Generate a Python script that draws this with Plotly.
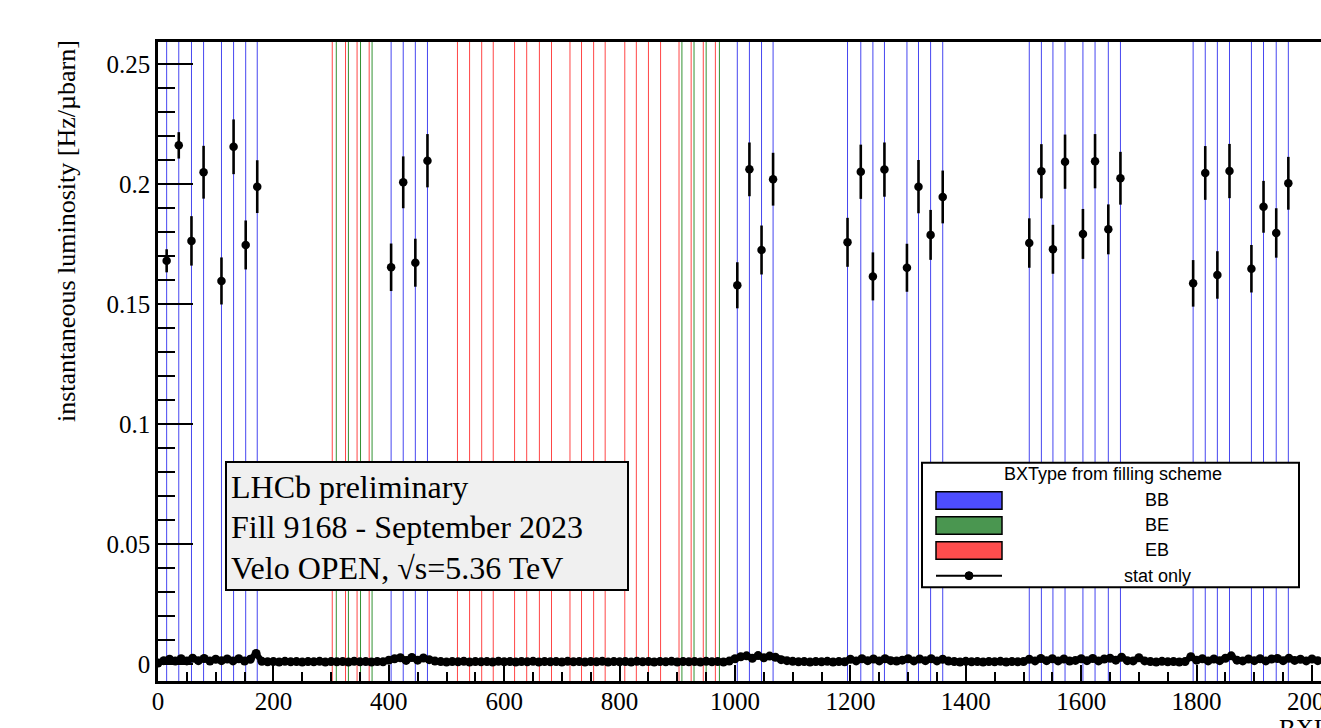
import plotly.graph_objects as go

# ---------------- data ----------------
# colliding (BB) bunch crossings with luminosity and stat error
bb_bx = [15, 36, 58, 79, 110, 131, 152, 172,
         404, 425, 446, 467,
         1004, 1025, 1046, 1066,
         1195, 1218, 1239, 1259, 1298, 1318, 1339, 1360,
         1510, 1531, 1551, 1572, 1603, 1624, 1647, 1668,
         1794, 1815, 1836, 1857, 1895, 1916, 1938, 1959]
bb_lumi = [0.1680, 0.2161, 0.1763, 0.2049, 0.1596, 0.2155, 0.1746, 0.1989,
           0.1653, 0.2007, 0.1672, 0.2097,
           0.1578, 0.2061, 0.1725, 0.2020,
           0.1757, 0.2051, 0.1615, 0.2060, 0.1651, 0.1989, 0.1788, 0.1946,
           0.1754, 0.2053, 0.1728, 0.2093, 0.1792, 0.2095, 0.1811, 0.2024,
           0.1586, 0.2046, 0.1621, 0.2054, 0.1647, 0.1905, 0.1796, 0.2003]
bb_err = [0.0048, 0.0055, 0.0103, 0.0110, 0.0098, 0.0114, 0.0102, 0.0110,
          0.0099, 0.0108, 0.0100, 0.0111,
          0.0096, 0.0112, 0.0102, 0.0110,
          0.0102, 0.0113, 0.0100, 0.0113, 0.0100, 0.0111, 0.0104, 0.0110,
          0.0103, 0.0113, 0.0102, 0.0113, 0.0104, 0.0113, 0.0104, 0.0110,
          0.0097, 0.0112, 0.0099, 0.0113, 0.0099, 0.0108, 0.0103, 0.0110]

# beam-empty and empty-beam crossings from the filling scheme
be_bx = [309, 330, 351, 371, 908, 929, 950, 973]
eb_bx = [302, 325, 345, 366, 519, 540, 561, 581, 618, 639, 661, 682,
         714, 734, 755, 775, 809, 829, 850, 871, 903, 924, 945, 966]

# near-zero luminosity in the remaining crossings (read every 10 BXID)
band_bx = list(range(0, 2020, 10))
band_val = [
    0.0004, 0.0014, 0.0020, 0.0012, 0.0022, 0.0013, 0.0024, 0.0014, 0.0023, 0.0012,
    0.0020, 0.0014, 0.0021, 0.0013, 0.0022, 0.0012, 0.0020, 0.0044, 0.0011, 0.0009,
    0.0010, 0.0008, 0.0011, 0.0009, 0.0010, 0.0008, 0.0010, 0.0009, 0.0011, 0.0008,
    0.0010, 0.0009, 0.0010, 0.0008, 0.0011, 0.0009, 0.0010, 0.0008, 0.0010, 0.0009,
    0.0016, 0.0022, 0.0026, 0.0015, 0.0027, 0.0016, 0.0025, 0.0018, 0.0012,
    0.0010, 0.0008, 0.0010, 0.0009, 0.0011, 0.0008, 0.0010, 0.0009, 0.0010, 0.0008,
    0.0011, 0.0009, 0.0010, 0.0008, 0.0010, 0.0009, 0.0011, 0.0008, 0.0010, 0.0009,
    0.0010, 0.0008, 0.0011, 0.0009, 0.0010, 0.0008, 0.0010, 0.0009, 0.0011, 0.0008,
    0.0010, 0.0009, 0.0010, 0.0008, 0.0011, 0.0009, 0.0010, 0.0008, 0.0010, 0.0009,
    0.0011, 0.0008, 0.0010, 0.0009, 0.0010, 0.0008, 0.0011, 0.0009, 0.0010, 0.0008,
    0.0012,
    0.0022, 0.0030, 0.0034, 0.0024, 0.0035, 0.0026, 0.0033, 0.0028, 0.0018, 0.0014,
    0.0011, 0.0009, 0.0010, 0.0008, 0.0010, 0.0009, 0.0011, 0.0008, 0.0010, 0.0009,
    0.0020, 0.0013, 0.0022, 0.0014, 0.0021, 0.0013, 0.0022, 0.0014, 0.0012, 0.0016,
    0.0022, 0.0013, 0.0021, 0.0014, 0.0022, 0.0013, 0.0020, 0.0012,
    0.0010, 0.0008, 0.0011, 0.0009, 0.0010, 0.0008, 0.0010, 0.0009, 0.0011, 0.0008,
    0.0010, 0.0009, 0.0010,
    0.0020, 0.0013, 0.0023, 0.0014, 0.0022, 0.0013, 0.0021, 0.0012, 0.0015, 0.0022,
    0.0014, 0.0023, 0.0013, 0.0021, 0.0024, 0.0016, 0.0028, 0.0014, 0.0013, 0.0026,
    0.0013,
    0.0010, 0.0008, 0.0011, 0.0009, 0.0010, 0.0008, 0.0010,
    0.0030, 0.0016, 0.0022, 0.0013, 0.0021, 0.0014, 0.0024, 0.0034, 0.0016, 0.0013,
    0.0021, 0.0014, 0.0022, 0.0013, 0.0021, 0.0023, 0.0014, 0.0024, 0.0015, 0.0020,
    0.0013, 0.0021, 0.0014,
]
n = min(len(band_bx), len(band_val))
band_bx, band_val = band_bx[:n], band_val[:n]

text_lines = ["LHCb preliminary", "Fill 9168 - September 2023", "Velo OPEN, √s=5.36 TeV"]
legend_title = "BXType from filling scheme"
legend_labels = ["BB", "BE", "EB", "stat only"]

# ---------------- styling ----------------
W, H = 1321, 728
# plot area in screen pixels
X0S, X1S, Y0S, Y1S = 158, 1321, 42, 681
L, R, T, B = X0S, W - X1S, Y0S, H - Y1S
SERIF = "Liberation Serif, Times New Roman, serif"
SANS = "Liberation Sans, Arial, sans-serif"
BLUE_LINE = "rgb(70,70,240)"
GREEN_LINE = "rgb(50,145,50)"
RED_LINE = "rgb(255,70,70)"


def px(xs):
    """screen x pixel -> paper coordinate"""
    return (xs - X0S) / (X1S - X0S)


def py(ys):
    """screen y pixel -> paper coordinate"""
    return (Y1S - ys) / (Y1S - Y0S)


fig = go.Figure()

shapes = []
for xs, col in ((eb_bx, RED_LINE), (be_bx, GREEN_LINE), (bb_bx, BLUE_LINE)):
    for xv in xs:
        shapes.append(dict(type="line", xref="x", yref="paper", x0=xv, x1=xv, y0=0, y1=1,
                           line=dict(color=col, width=1), layer="below"))

fig.add_trace(go.Scatter(x=band_bx, y=band_val, mode="lines+markers",
                         line=dict(color="black", width=6),
                         marker=dict(color="black", size=9), showlegend=False,
                         hoverinfo="skip"))
fig.add_trace(go.Scatter(x=bb_bx, y=bb_lumi, mode="markers",
                         error_y=dict(type="data", array=bb_err, color="black",
                                      thickness=2.6, width=0),
                         marker=dict(color="black", size=8.5), showlegend=False))

# info box
shapes.append(dict(type="rect", xref="paper", yref="paper", x0=px(226), x1=px(628),
                   y0=py(590), y1=py(462), fillcolor="rgb(240,240,240)",
                   line=dict(color="black", width=2), layer="above"))
annotations = []
for t, yc in zip(text_lines, [487, 527, 568]):
    annotations.append(dict(text=t, xref="paper", yref="paper", x=px(229), y=py(yc),
                            xanchor="left", yanchor="middle", showarrow=False,
                            font=dict(family=SERIF, size=32, color="black")))

# legend box
shapes.append(dict(type="rect", xref="paper", yref="paper", x0=px(922), x1=px(1299),
                   y0=py(587.3), y1=py(462.7), fillcolor="white",
                   line=dict(color="black", width=2), layer="above"))
annotations.append(dict(text=legend_title, xref="paper", yref="paper", x=px(1113), y=py(474),
                        xanchor="center", yanchor="middle", showarrow=False,
                        font=dict(family=SANS, size=18, color="black")))
box_cols = ["rgb(77,77,255)", "rgb(74,150,80)", "rgb(255,77,77)"]
box_y = [(491.7, 509.3), (516.7, 534.3), (541.7, 559.3)]
for col, (y0, y1) in zip(box_cols, box_y):
    shapes.append(dict(type="rect", xref="paper", yref="paper", x0=px(936), x1=px(1002),
                       y0=py(y1), y1=py(y0), fillcolor=col,
                       line=dict(color="black", width=1.5), layer="above"))
shapes.append(dict(type="line", xref="paper", yref="paper", x0=px(936), x1=px(1002),
                   y0=py(575.7), y1=py(575.7), line=dict(color="black", width=2), layer="above"))
shapes.append(dict(type="circle", xref="paper", yref="paper", x0=px(965), x1=px(973),
                   y0=py(579.7), y1=py(571.7), fillcolor="black",
                   line=dict(color="black", width=1), layer="above"))
for lab, yc in zip(legend_labels, [500, 525, 550, 575.5]):
    annotations.append(dict(text=lab, xref="paper", yref="paper", x=px(1157), y=py(yc),
                            xanchor="center", yanchor="middle", showarrow=False,
                            font=dict(family=SANS, size=18, color="black")))

# axis titles
annotations.append(dict(text="instantaneous luminosity [Hz/µbarn]", xref="paper", yref="paper",
                        x=px(66), y=py(231), textangle=-90, xanchor="center", yanchor="middle",
                        showarrow=False, font=dict(family=SERIF, size=26, color="black")))
annotations.append(dict(text="BXID", xref="paper", yref="paper", x=px(1277), y=py(713),
                        xanchor="left", yanchor="top", showarrow=False,
                        font=dict(family=SERIF, size=25, color="black")))

fig.update_layout(
    width=W, height=H, margin=dict(l=L, r=R, t=T, b=B, autoexpand=False),
    paper_bgcolor="white", plot_bgcolor="white",
    shapes=shapes, annotations=annotations, showlegend=False,
    xaxis=dict(range=[0, (X1S - X0S) / 0.577], showline=True, linecolor="black", linewidth=2.5,
               mirror=True, ticks="inside", ticklen=16, tickwidth=1.5, tickcolor="black",
               tick0=0, dtick=200, showgrid=False, zeroline=False, ticklabelstandoff=-4,
               ticklabeloverflow="allow",
               minor=dict(dtick=50, ticklen=9, tickwidth=1.5, ticks="inside", tickcolor="black",
                          showgrid=False),
               tickfont=dict(family=SERIF, size=25, color="black")),
    yaxis=dict(range=[(664 - Y1S) / 2400, (664 - Y0S) / 2400], showline=True,
               linecolor="black", linewidth=2.5, mirror=False, ticks="inside", ticklen=35,
               tickwidth=1.5, tickcolor="black", tick0=0, dtick=0.05, showgrid=False,
               zeroline=False,
               minor=dict(dtick=0.01, ticklen=17, tickwidth=1.5, ticks="inside",
                          tickcolor="black", showgrid=False),
               tickfont=dict(family=SERIF, size=25, color="black")),
)

fig.write_html(
    "out.html",
    config={"displayModeBar": False},
    post_script=("document.body.style.margin='0px';"
                 "document.documentElement.style.overflow='hidden';"
                 "document.body.style.overflow='hidden';"),
)
